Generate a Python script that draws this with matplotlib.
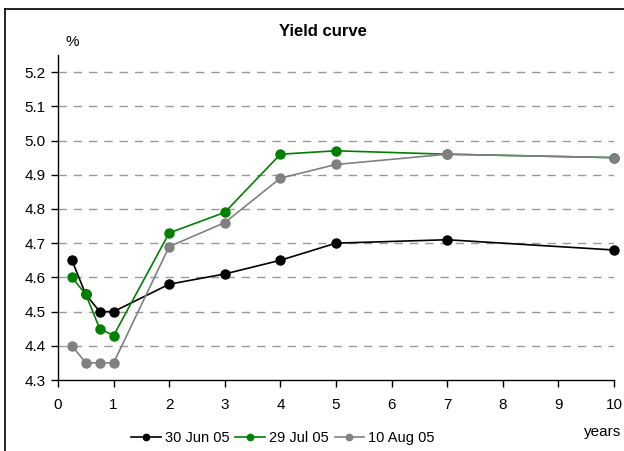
import matplotlib.pyplot as plt
from matplotlib.lines import Line2D

plt.rcParams['font.family'] = ['Liberation Sans', 'DejaVu Sans']

# Maturities in years
maturities = [0.25, 0.5, 0.75, 1, 2, 3, 4, 5, 7, 10]

# Yields in percent
jun30 = [4.65, 4.55, 4.50, 4.50, 4.58, 4.61, 4.65, 4.70, 4.71, 4.68]
jul29 = [4.60, 4.55, 4.45, 4.43, 4.73, 4.79, 4.96, 4.97, 4.96, 4.95]
aug10 = [4.40, 4.35, 4.35, 4.35, 4.69, 4.76, 4.89, 4.93, 4.96, 4.95]

labels = ['30 Jun 05', '29 Jul 05', '10 Aug 05']
colors = ['#000000', '#008000', '#808080']

fig = plt.figure(figsize=(6.24, 4.51), dpi=100)
W, H = 624, 451
ax = fig.add_axes([58 / W, (H - 380) / H, (614 - 58) / W, (380 - 55) / H])

for vals, lab, col in zip([jun30, jul29, aug10], labels, colors):
    ax.plot(maturities, vals, color=col, marker='o', markersize=6.5,
            linewidth=1.2, label=lab, clip_on=False)

ax.set_xlim(0, 10)
ax.set_ylim(4.3, 5.25)
ax.set_xticks(range(0, 11))
ax.set_yticks([4.3, 4.4, 4.5, 4.6, 4.7, 4.8, 4.9, 5.0, 5.1, 5.2])
ax.set_yticklabels([f'{v:.1f}' for v in ax.get_yticks()])
ax.tick_params(axis='both', direction='out', length=5, width=1,
               labelsize=11, colors='black')
ax.tick_params(axis='x', pad=8)
ax.tick_params(axis='y', pad=4)

for y in [4.4, 4.5, 4.6, 4.7, 4.8, 4.9, 5.0, 5.1, 5.2]:
    ax.axhline(y, color='#999999', linestyle=(0, (6, 5)), linewidth=1, zorder=0)

for s in ['top', 'right']:
    ax.spines[s].set_visible(False)
ax.spines['left'].set_linewidth(1)
ax.spines['bottom'].set_linewidth(1)

fig.text(323 / W, 1 - 31 / H, 'Yield curve', ha='center', va='center',
         fontsize=12, fontweight='bold')
fig.text(72 / W, 1 - 42 / H, '%', ha='center', va='center', fontsize=11)
fig.text(603 / W, 1 - 432 / H, 'years', ha='center', va='center', fontsize=11)

fig.legend(loc='center', bbox_to_anchor=(283 / W, 1 - 438 / H), ncol=3,
           frameon=False, fontsize=10.5, handlelength=2.0, handletextpad=0.3,
           columnspacing=0.4, markerscale=0.7)

# frame around the chart
fig.add_artist(Line2D([5 / W, 1], [1 - 9 / H, 1 - 9 / H], color='black',
                      linewidth=1.2, transform=fig.transFigure))
fig.add_artist(Line2D([5 / W, 5 / W], [0, 1 - 9 / H], color='black',
                      linewidth=1.2, transform=fig.transFigure))

fig.savefig('out.png', dpi=100)
